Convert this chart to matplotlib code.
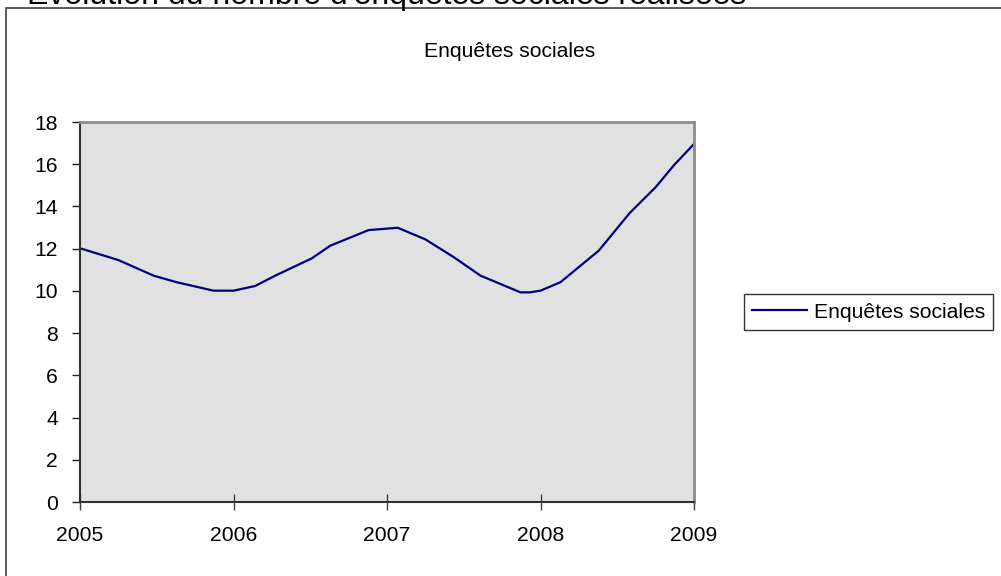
import matplotlib
matplotlib.use("Agg")
import matplotlib.pyplot as plt
from matplotlib.patches import Rectangle

# values (decimal years -> number of enquetes)
years = [2005.00, 2005.25, 2005.48, 2005.63, 2005.87, 2006.00, 2006.14, 2006.28,
         2006.51, 2006.63, 2006.88, 2007.07, 2007.25, 2007.43, 2007.61, 2007.87,
         2007.93, 2008.00, 2008.13, 2008.38, 2008.58, 2008.75, 2008.87, 2009.00]
enquetes = [12.02, 11.46, 10.72, 10.41, 10.01, 10.01, 10.23, 10.75,
            11.54, 12.14, 12.88, 12.99, 12.44, 11.62, 10.72, 9.93,
            9.93, 10.01, 10.41, 11.91, 13.68, 14.91, 15.96, 16.96]
xticks = [2005, 2006, 2007, 2008, 2009]
yticks = list(range(0, 19, 2))
series_name = "Enquêtes sociales"
page_title = "Évolution du nombre d'enquêtes sociales réalisées"

plt.rcParams["font.family"] = ["Liberation Sans", "DejaVu Sans"]

W, H = 1001, 576
fig = plt.figure(figsize=(W / 100, H / 100), dpi=100)

# outer chart frame
fig.patches.append(Rectangle((6 / W, -0.05), 1.2, 1.05 - 8 / H, transform=fig.transFigure,
                             fill=False, edgecolor="#404040", linewidth=1.2))
# page heading, cut off by the top edge (as in the source)
fig.text(27 / W, 1 - 4 / H, page_title, fontsize=23, va="baseline", ha="left")

ax = fig.add_axes([80 / W, 1 - 502 / H, 614 / W, 380 / H])
ax.set_facecolor("#E1E1E1")
ax.plot(years, enquetes, color="#000080", linewidth=1.6, label=series_name)
ax.set_xlim(2005, 2009)
ax.set_ylim(0, 18)
ax.set_xticks(xticks)
ax.set_xticklabels([str(y) for y in xticks])
ax.set_yticks(yticks)
ax.tick_params(axis="x", direction="inout", length=12, width=1, color="#404040",
               labelsize=15.2, pad=11)
ax.tick_params(axis="y", direction="out", length=6, width=1, color="#202020",
               labelsize=15.2, pad=10)
for s in ["top", "right"]:
    ax.spines[s].set_color("#8C8C8C")
    ax.spines[s].set_linewidth(2)
for s in ["left", "bottom"]:
    ax.spines[s].set_color("#303030")
    ax.spines[s].set_linewidth(1.5)

fig.text(510 / W, 1 - 57 / H, series_name, fontsize=15.2, ha="center", va="baseline")

leg = fig.legend(loc="center left", bbox_to_anchor=(744 / W, 1 - 312 / H), fontsize=15.2,
                 frameon=True, fancybox=False, borderaxespad=0, handlelength=2.6,
                 handletextpad=0.3, borderpad=0.4)
leg.get_frame().set_edgecolor("black")
leg.get_frame().set_linewidth(1)

fig.savefig("out.png", dpi=100)
